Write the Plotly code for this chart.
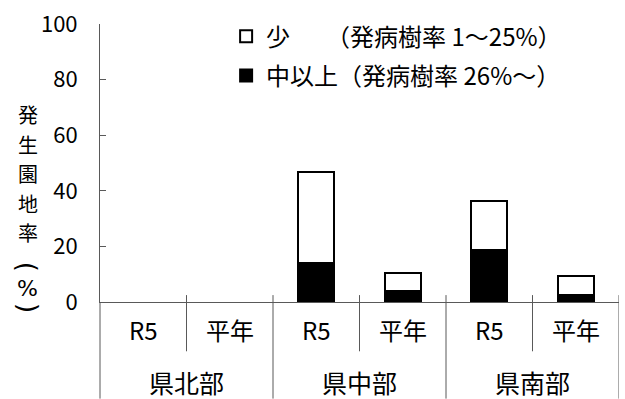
import plotly.graph_objects as go

regions = ["県北部", "県中部", "県南部"]
periods = ["R5", "平年"]
chu_ijo = [0, 0, 13.9, 3.8, 18.6, 2.4]      # 中以上 (black, bottom)
sho = [0, 0, 32.8, 6.5, 17.7, 7.1]         # 少 (white, top)
y_ticks = [0, 20, 40, 60, 80, 100]
legend_names = ["少\u3000\u3000（発病樹率 1～25%）", "中以上（発病樹率 26%～）"]
y_title_chars = ["発", "生", "園", "地", "率"]
y_title_tail = ["(", "%", ")"]

cats = [r + p for r in regions for p in periods]
FONT = "Noto Sans CJK JP"
LINE = "#595959"

def visible(vals):
    # zero-height bars are not drawn (no outline) in the reference
    return [v if v > 0 else None for v in vals]

fig = go.Figure()
fig.add_trace(go.Bar(x=cats, y=visible(chu_ijo), name=legend_names[1], legendgroup="b",
                     legendrank=2,
                     marker=dict(color="black", line=dict(color="black", width=2))))
fig.add_trace(go.Bar(x=cats, y=visible(sho), name=legend_names[0], legendgroup="a",
                     legendrank=1,
                     marker=dict(color="white", line=dict(color="black", width=2))))

fig.update_layout(
    barmode="stack", bargap=0.58,
    width=625, height=399,
    margin=dict(l=100, r=6, t=20, b=97),
    paper_bgcolor="white", plot_bgcolor="white",
    font=dict(family=FONT, size=20, color="black"),
    legend=dict(x=0.243, y=1.035, xanchor="left", yanchor="top",
                traceorder="grouped", tracegroupgap=5,
                font=dict(family=FONT, size=24, color="black"),
                bgcolor="rgba(0,0,0,0)"),
    showlegend=True,
)
fig.update_yaxes(range=[0, 100], tickvals=y_ticks, ticks="inside", ticklen=6,
                 tickcolor=LINE, showline=True, linecolor=LINE, linewidth=1,
                 showgrid=False, zeroline=False, ticklabelstandoff=17,
                 tickfont=dict(family=FONT, size=22))
fig.update_xaxes(type="category", showline=True, linecolor=LINE, linewidth=1,
                 showticklabels=False, ticks="", showgrid=False,
                 range=[-0.5, len(cats) - 0.5])

def py(px):
    return (302 - px) / 282.0

# category labels
for i, c in enumerate(cats):
    fig.add_annotation(x=i, y=py(330), xref="x", yref="paper", text=periods[i % 2],
                       showarrow=False, xanchor="center", yanchor="middle",
                       borderpad=0, font=dict(family=FONT, size=24))
for j, r in enumerate(regions):
    fig.add_annotation(x=2 * j + 0.5, y=py(383), xref="x", yref="paper", text=r,
                       showarrow=False, xanchor="center", yanchor="middle",
                       borderpad=0, font=dict(family=FONT, size=25))

# divider lines
for j in range(len(regions)):
    fig.add_shape(type="line", xref="x", yref="paper", x0=2 * j + 0.5, x1=2 * j + 0.5,
                  y0=py(295), y1=py(352), line=dict(color=LINE, width=1))
    fig.add_shape(type="line", xref="x", yref="paper", x0=2 * j + 1.5, x1=2 * j + 1.5,
                  y0=py(295), y1=py(400), line=dict(color=LINE, width=1))
fig.add_shape(type="line", xref="paper", yref="paper", x0=0, x1=0,
              y0=py(400), y1=0, line=dict(color=LINE, width=1))

# vertical y-axis title, one character per annotation
title_px = [112, 142, 172, 202, 232]
for ch, ypx in zip(y_title_chars, title_px):
    fig.add_annotation(x=-0.139, y=py(ypx), xref="paper", yref="paper",
                       text=ch, showarrow=False, xanchor="center", yanchor="middle",
                       borderpad=0, font=dict(family=FONT, size=20))
tail_px = [266, 288, 308]
tail_angle = [90, 0, 90]
tail_font = ["DejaVu Sans", "DejaVu Sans", "DejaVu Sans"]
tail_size = [26, 22, 26]
for ch, ypx, ang, fam, sz in zip(y_title_tail, tail_px, tail_angle, tail_font, tail_size):
    fig.add_annotation(x=-0.139, y=py(ypx), xref="paper", yref="paper",
                       text=ch, textangle=ang, showarrow=False,
                       xanchor="center", yanchor="middle", borderpad=0,
                       font=dict(family=fam, size=sz))

fig.write_html("out.html")
